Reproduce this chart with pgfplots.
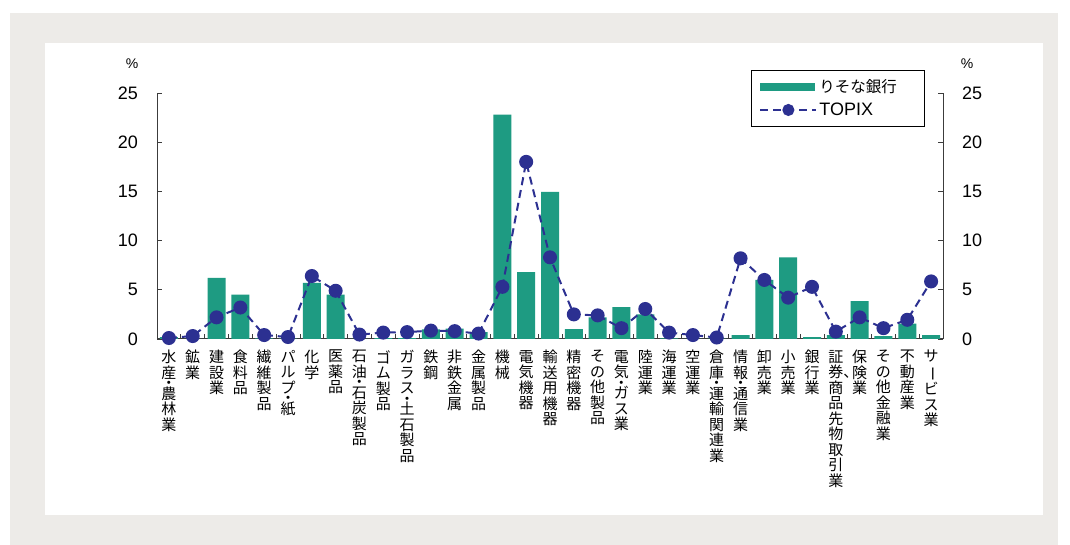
\documentclass[border=0pt]{standalone}
\usepackage{fontspec}
\setmainfont{Liberation Sans}
\newfontfamily\jp{Noto Sans CJK JP}
\usepackage{graphicx}
\usepackage{pgfplots}
\pgfplotsset{compat=1.18}
\definecolor{barc}{RGB}{30,155,130}
\definecolor{navy}{RGB}{44,48,145}
\definecolor{bgc}{RGB}{237,235,232}
\definecolor{axc}{RGB}{60,60,60}
\pgfplotsset{
  barlegend/.style={legend image code/.code={\fill[barc] (0pt,-4pt) rectangle (55pt,4pt);}},
  linelegend/.style={legend image code/.code={\draw[mark repeat=2,mark phase=2,mark size=5pt,##1] plot coordinates {(0pt,0pt) (28pt,0pt) (56pt,0pt)};}},
}
\newcommand{\dt}{\\[-5pt]・\\[-5pt]}
\newcommand{\cho}{\rotatebox[origin=c]{-90}{ー}}
\begin{document}
\begin{tikzpicture}
\path[use as bounding box] (0pt,0pt) rectangle (1070pt,545pt);
\fill[bgc] (10pt,0pt) rectangle (1058pt,532pt);
\fill[white] (45pt,30pt) rectangle (1043pt,502pt);
\node[font=\fontsize{14}{15}\selectfont] at (132pt,481pt) {\%};
\node[font=\fontsize{14}{15}\selectfont] at (967pt,481pt) {\%};
\begin{axis}[
  at={(157pt,206pt)}, anchor=south west,
  width=786pt, height=246pt, scale only axis,
  xmin=-0.5, xmax=32.5, ymin=0, ymax=25,
  axis x line=bottom, axis y line=left,
  axis line style={-, draw=axc, line width=1pt},
  tick align=inside,
  xtick={0,...,32},
  minor x tick num=1,
  every major x tick/.append style={draw=none},
  major tick length=5pt, minor tick length=5pt,
  tick style={axc, line width=0.8pt},
  ytick={0,5,...,25},
  /pgf/number format/assume math mode=true,
  yticklabel style={font=\fontsize{18}{20}\selectfont, inner sep=0pt, xshift=-19pt, anchor=east},
  xticklabel style={font=\fontsize{15}{15.5}\selectfont\jp, align=center, anchor=north, inner sep=0pt, yshift=-11pt},
  xticklabels={
    {水\\産\dt 農\\林\\業},
    {鉱\\業},
    {建\\設\\業},
    {食\\料\\品},
    {繊\\維\\製\\品},
    {パ\\ル\\プ\dt 紙},
    {化\\学},
    {医\\薬\\品},
    {石\\油\dt 石\\炭\\製\\品},
    {ゴ\\ム\\製\\品},
    {ガ\\ラ\\ス\dt 土\\石\\製\\品},
    {鉄\\鋼},
    {非\\鉄\\金\\属},
    {金\\属\\製\\品},
    {機\\械},
    {電\\気\\機\\器},
    {輸\\送\\用\\機\\器},
    {精\\密\\機\\器},
    {そ\\の\\他\\製\\品},
    {電\\気\dt ガ\\ス\\業},
    {陸\\運\\業},
    {海\\運\\業},
    {空\\運\\業},
    {倉\\庫\dt 運\\輸\\関\\連\\業},
    {情\\報\dt 通\\信\\業},
    {卸\\売\\業},
    {小\\売\\業},
    {銀\\行\\業},
    {証\\券\rlap{、}\\商\\品\\先\\物\\取\\引\\業},
    {保\\険\\業},
    {そ\\の\\他\\金\\融\\業},
    {不\\動\\産\\業},
    {サ\\\cho\\ビ\\ス\\業}
  },
  clip=false,
  legend style={at={(0.7557,1.0935)}, anchor=north west, draw=black, line width=0.8pt,
    font=\fontsize{18}{20}\selectfont, inner xsep=8pt, inner ysep=7pt, row sep=5pt,
    /tikz/every even column/.append style={text width=95pt}},
  legend cell align=left,
]
\addplot[ybar, bar width=18pt, fill=barc, draw=none, barlegend]
  coordinates {
  (0,0.18) (1,0) (2,6.2) (3,4.5) (4,0.06) (5,0.03) (6,5.7) (7,4.5) (8,0.02) (9,0.1) (10,0.1)
  (11,0.98) (12,1.05) (13,0.7) (14,22.8) (15,6.8) (16,14.95) (17,1.0) (18,2.2) (19,3.25) (20,2.5)
  (21,0.06) (22,0) (23,0.03) (24,0.4) (25,6.0) (26,8.3) (27,0.2) (28,0.4) (29,3.85) (30,0.3)
  (31,1.55) (32,0.4)};
\addlegendentry{\fontsize{15.5}{18}\selectfont\jp りそな銀行}
\addplot[navy, line width=2pt, dash pattern=on 8pt off 5pt, mark=*, mark size=6pt,
  mark options={solid, fill=navy, draw=navy}, linelegend]
  coordinates {
  (0,0.1) (1,0.3) (2,2.2) (3,3.2) (4,0.4) (5,0.2) (6,6.4) (7,4.9) (8,0.45) (9,0.65) (10,0.7)
  (11,0.85) (12,0.8) (13,0.55) (14,5.3) (15,18.0) (16,8.3) (17,2.5) (18,2.4) (19,1.1) (20,3.05)
  (21,0.65) (22,0.4) (23,0.15) (24,8.2) (25,6.0) (26,4.2) (27,5.3) (28,0.75) (29,2.2) (30,1.1)
  (31,1.95) (32,5.85)};
\addlegendentry{TOPIX}
\end{axis}
\begin{axis}[
  at={(157pt,206pt)}, anchor=south west,
  width=786pt, height=246pt, scale only axis,
  xmin=-0.5, xmax=32.5, ymin=0, ymax=25,
  axis x line=none, axis y line=right,
  axis line style={-, draw=axc, line width=1pt},
  tick align=inside, xtick=\empty,
  major tick length=5pt,
  tick style={axc, line width=0.8pt},
  ytick={0,5,...,25},
  /pgf/number format/assume math mode=true,
  yticklabel style={font=\fontsize{18}{20}\selectfont, inner sep=0pt, xshift=19pt, anchor=west},
]
\end{axis}
\end{tikzpicture}
\end{document}
